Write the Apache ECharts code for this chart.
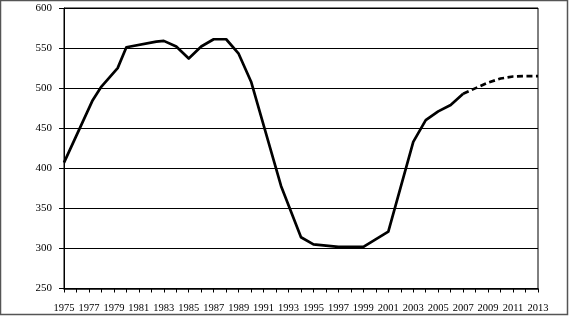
<!DOCTYPE html>
<html>
<head>
<meta charset="utf-8">
<script src="https://cdn.jsdelivr.net/npm/echarts@6/dist/echarts.min.js"></script>
<style>
html,body{margin:0;padding:0;background:#fff;}
#c{width:570px;height:325px;}
</style>
</head>
<body>
<div id="c"></div>
<script>
// Solid (historical) series: [year, value]
const solidYears  = [1975, 1977.3, 1978, 1979.3, 1980, 1982.4, 1983, 1984, 1985, 1986, 1987, 1988, 1989, 1990, 1992.4, 1994, 1995, 1997, 1999, 2001, 2003, 2004, 2005, 2006, 2007];
const solidValues = [407, 485, 502, 525, 551, 558, 559, 552, 537, 552, 561, 561, 543, 508, 378, 314, 305, 302, 302, 321, 433, 460, 471, 479, 493];
// Dashed (projection) series
const projYears  = [2007, 2008, 2009, 2010, 2011, 2012, 2013];
const projValues = [493, 500, 507, 512, 514.5, 515, 515];
// Axis settings
const yMin = 250, yMax = 600, yStep = 50;
const xMin = 1975, xMax = 2013;

const chart = echarts.init(document.getElementById('c'), null, {renderer: 'canvas'});
const font = '"Liberation Serif", "Times New Roman", serif';
chart.setOption({
  animation: false,
  backgroundColor: '#fff',
  graphic: [{
    type: 'rect', z: 100, silent: true,
    shape: {x: 0.5, y: 0.5, width: 567, height: 314},
    style: {fill: null, stroke: '#555', lineWidth: 1.5}
  }],
  grid: {left: 64, right: 32, top: 8, bottom: 36.5, show: true, borderColor: '#000', borderWidth: 1, backgroundColor: 'transparent'},
  xAxis: {
    type: 'value', min: xMin, max: xMax, interval: 1,
    axisLine: {show: true, onZero: false, lineStyle: {color: '#000', width: 1.5}},
    axisTick: {show: true, inside: false, length: 4, lineStyle: {color: '#000', width: 1}},
    splitLine: {show: false},
    axisLabel: {
      margin: 14, color: '#000', fontFamily: font, fontSize: 10.5,
      formatter: v => (Math.round(v) % 2 === 1 ? String(Math.round(v)) : '')
    }
  },
  yAxis: {
    type: 'value', min: yMin, max: yMax, interval: yStep,
    axisLine: {show: true, lineStyle: {color: '#000', width: 1}},
    axisTick: {show: true, inside: false, length: 5, lineStyle: {color: '#000', width: 1}},
    splitLine: {show: true, lineStyle: {color: '#000', width: 1}},
    axisLabel: {margin: 12, color: '#000', fontFamily: font, fontSize: 11}
  },
  series: [
    {
      type: 'line', data: solidYears.map((y, i) => [y, solidValues[i]]),
      showSymbol: false, symbol: 'none', smooth: false,
      lineStyle: {color: '#000', width: 2.7, join: 'round'}
    },
    {
      type: 'line', data: projYears.map((y, i) => [y, projValues[i]]),
      showSymbol: false, symbol: 'none', smooth: false,
      lineStyle: {color: '#000', width: 2.7, type: [6, 3.5]}
    }
  ]
});
</script>
</body>
</html>
